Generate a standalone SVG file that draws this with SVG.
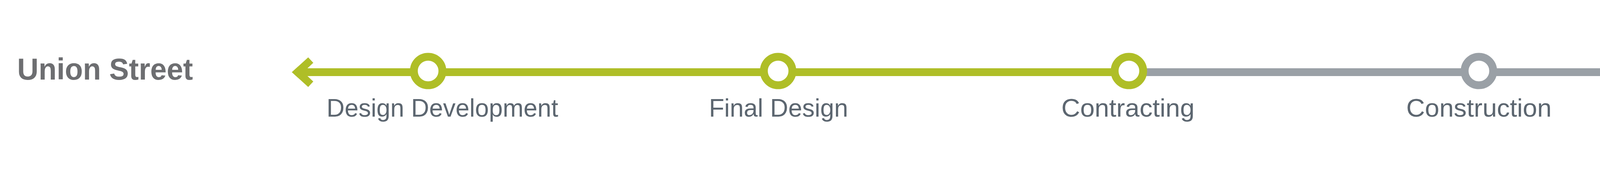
<svg xmlns="http://www.w3.org/2000/svg" width="4839" height="464" viewBox="0 0 4839 464">
  <style>
    .title { font-family: "Liberation Sans", Arial, sans-serif; font-weight: bold; font-size: 77px; fill: #6d6e71; }
    .label { font-family: "Liberation Sans", Arial, sans-serif; font-size: 64px; fill: #5c6670; }
    .done { stroke: #afbe27; }
    .todo { stroke: #9aa0a6; }
    .stop { fill: #ffffff; stroke-width: 20; }
    .track { stroke-width: 20; fill: none; }
  </style>
  <rect width="4839" height="464" fill="#ffffff"/>
  <g id="title">
    <text class="title" x="44" y="204" textLength="450" lengthAdjust="spacingAndGlyphs">Union Street</text>
  </g>
  <g id="connectors">
    <line class="track done" x1="785" y1="185" x2="2890" y2="185"/>
    <line class="track todo" x1="2890" y1="185" x2="4685" y2="185"/>
    <polygon fill="#afbe27" points="747,185 789,147 802,161 785,177 785,193 802,209 789,223"/>
  </g>
  <g id="node-design-development">
    <circle class="stop done" cx="1096" cy="182" r="36.5"/>
    <text class="label" x="836" y="298.5" textLength="593" lengthAdjust="spacingAndGlyphs">Design Development</text>
  </g>
  <g id="node-final-design">
    <circle class="stop done" cx="1992" cy="182" r="36.5"/>
    <text class="label" x="1815" y="298.5" textLength="356" lengthAdjust="spacingAndGlyphs">Final Design</text>
  </g>
  <g id="node-contracting">
    <circle class="stop done" cx="2890" cy="182" r="36.5"/>
    <text class="label" x="2717" y="298.5" textLength="341" lengthAdjust="spacingAndGlyphs">Contracting</text>
  </g>
  <g id="node-construction">
    <circle class="stop todo" cx="3786" cy="182" r="36.5"/>
    <text class="label" x="3600" y="298.5" textLength="372" lengthAdjust="spacingAndGlyphs">Construction</text>
  </g>
  <g id="node-closeout">
    <circle class="stop todo" cx="4684" cy="182" r="36.5"/>
    <text class="label" x="4557" y="298.5" textLength="253" lengthAdjust="spacingAndGlyphs">Closeout</text>
  </g>
</svg>
